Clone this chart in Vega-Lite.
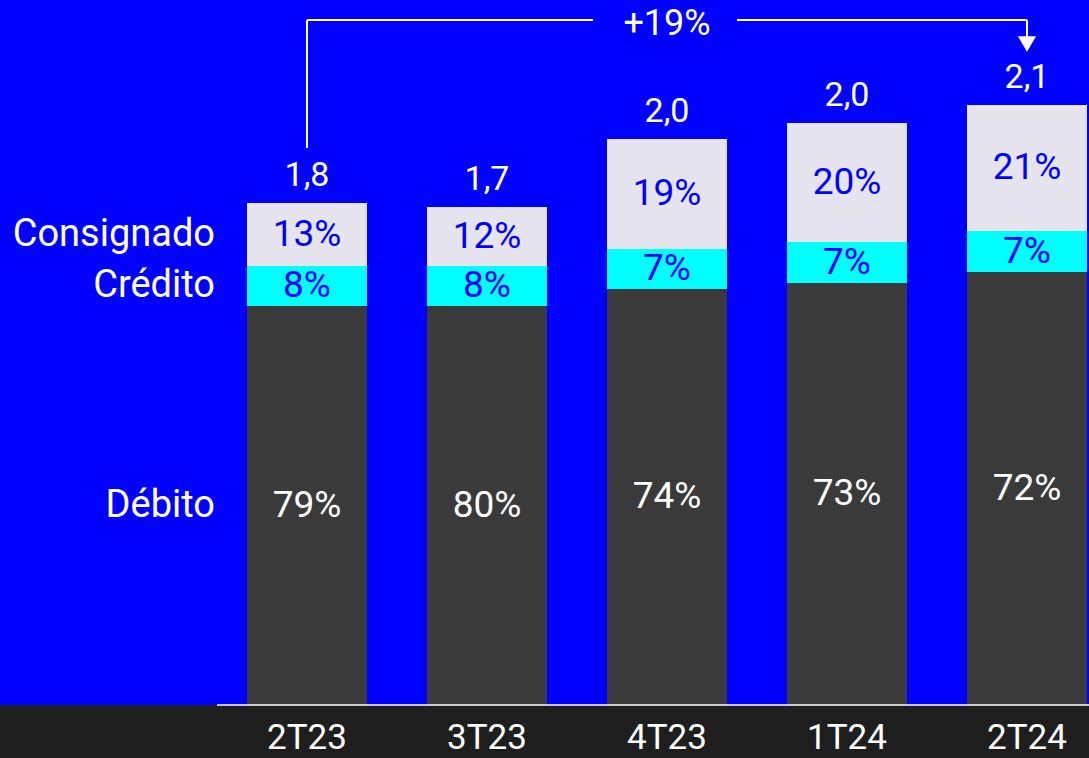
{
  "$schema": "https://vega.github.io/schema/vega-lite/v6.json",
  "width": 1089,
  "height": 705,
  "autosize": {"type": "none"},
  "padding": {"left": 0, "right": 0, "top": 0, "bottom": 53},
  "background": "#1e1e1e",
  "config": {
    "view": {"fill": "#0000ff", "stroke": null},
    "font": "Roboto",
    "axisX": {"labelAngle": 0, "labelColor": "#ffffff", "labelFont": "Roboto", "labelFontSize": 35, "labelPadding": 15, "ticks": false, "tickSize": 0, "domain": false, "grid": false, "title": null}
  },
  "datasets": {
    "segments": [
      {"quarter": "2T23", "segment": "Débito", "ord": 1, "value": 1.3965, "label": "79%"},
      {"quarter": "2T23", "segment": "Crédito", "ord": 2, "value": 0.14, "label": "8%"},
      {"quarter": "2T23", "segment": "Consignado", "ord": 3, "value": 0.2205, "label": "13%"},
      {"quarter": "3T23", "segment": "Débito", "ord": 1, "value": 1.3965, "label": "80%"},
      {"quarter": "3T23", "segment": "Crédito", "ord": 2, "value": 0.14, "label": "8%"},
      {"quarter": "3T23", "segment": "Consignado", "ord": 3, "value": 0.2065, "label": "12%"},
      {"quarter": "4T23", "segment": "Débito", "ord": 1, "value": 1.456, "label": "74%"},
      {"quarter": "4T23", "segment": "Crédito", "ord": 2, "value": 0.14, "label": "7%"},
      {"quarter": "4T23", "segment": "Consignado", "ord": 3, "value": 0.385, "label": "19%"},
      {"quarter": "1T24", "segment": "Débito", "ord": 1, "value": 1.477, "label": "73%"},
      {"quarter": "1T24", "segment": "Crédito", "ord": 2, "value": 0.1435, "label": "7%"},
      {"quarter": "1T24", "segment": "Consignado", "ord": 3, "value": 0.4165, "label": "20%"},
      {"quarter": "2T24", "segment": "Débito", "ord": 1, "value": 1.5155, "label": "72%"},
      {"quarter": "2T24", "segment": "Crédito", "ord": 2, "value": 0.1435, "label": "7%"},
      {"quarter": "2T24", "segment": "Consignado", "ord": 3, "value": 0.441, "label": "21%"}
    ],
    "totals": [
      {"quarter": "2T23", "total": 1.757, "label": "1,8"},
      {"quarter": "3T23", "total": 1.743, "label": "1,7"},
      {"quarter": "4T23", "total": 1.981, "label": "2,0"},
      {"quarter": "1T24", "total": 2.037, "label": "2,0"},
      {"quarter": "2T24", "total": 2.1, "label": "2,1"}
    ]
  },
  "layer": [
    {
      "data": {"name": "segments"},
      "mark": {"type": "bar"},
      "encoding": {
        "x": {"field": "quarter", "type": "nominal", "title": null, "sort": null,
              "scale": {"domain": ["2T23", "3T23", "4T23", "1T24", "2T24"], "paddingInner": 0.33333, "paddingOuter": 0.69167, "align": 0.992}},
        "y": {"field": "value", "type": "quantitative", "stack": "zero", "axis": null,
              "scale": {"domain": [0, 2.4675], "nice": false, "zero": true}},
        "color": {"field": "segment", "type": "nominal", "legend": null,
                  "scale": {"domain": ["Débito", "Crédito", "Consignado"], "range": ["#3b3a3b", "#00ffff", "#e6e4ef"]}},
        "order": {"field": "ord", "type": "quantitative"}
      }
    },
    {
      "data": {"name": "segments"},
      "transform": [
        {"stack": "value", "groupby": ["quarter"], "sort": [{"field": "ord", "order": "ascending"}], "as": ["y0", "y1"]},
        {"fold": ["y0", "y1"], "as": ["k", "v"]},
        {"aggregate": [{"op": "mean", "field": "v", "as": "mid"}], "groupby": ["quarter", "segment", "label"]}
      ],
      "mark": {"type": "text", "fontSize": 37, "baseline": "middle", "align": "center", "font": "Roboto"},
      "encoding": {
        "x": {"field": "quarter", "type": "nominal", "title": null},
        "y": {"field": "mid", "type": "quantitative", "axis": null},
        "text": {"field": "label"},
        "color": {"condition": {"test": "datum.segment === 'Débito'", "value": "#ffffff"}, "value": "#0000ff"}
      }
    },
    {
      "data": {"name": "segments"},
      "transform": [
        {"stack": "value", "groupby": ["quarter"], "sort": [{"field": "ord", "order": "ascending"}], "as": ["y0", "y1"]},
        {"filter": "datum.quarter === '2T23'"},
        {"fold": ["y0", "y1"], "as": ["k", "v"]},
        {"aggregate": [{"op": "mean", "field": "v", "as": "mid"}], "groupby": ["quarter", "segment"]}
      ],
      "mark": {"type": "text", "fontSize": 38, "baseline": "middle", "align": "right", "dx": -92, "color": "#ffffff", "font": "Roboto"},
      "encoding": {
        "x": {"field": "quarter", "type": "nominal", "title": null},
        "y": {"field": "mid", "type": "quantitative", "axis": null},
        "text": {"field": "segment"}
      }
    },
    {
      "data": {"name": "totals"},
      "mark": {"type": "text", "fontSize": 34, "baseline": "middle", "align": "center", "dy": -27, "color": "#ffffff", "font": "Roboto"},
      "encoding": {
        "x": {"field": "quarter", "type": "nominal", "title": null},
        "y": {"field": "total", "type": "quantitative", "axis": null},
        "text": {"field": "label"}
      }
    },
    {
      "data": {"values": [{"a": "2T23", "b": "2T24", "v": 0}]},
      "mark": {"type": "rule", "color": "#ffffff", "strokeWidth": 1.5, "xOffset": -90, "x2Offset": 62},
      "encoding": {
        "x": {"field": "a", "type": "nominal", "title": null},
        "x2": {"field": "b"},
        "y": {"field": "v", "type": "quantitative", "axis": null}
      }
    },
    {
      "data": {"values": [{"a": "2T23", "v1": 1.9495, "v2": 2.3975}]},
      "mark": {"type": "rule", "color": "#ffffff", "strokeWidth": 2},
      "encoding": {
        "x": {"field": "a", "type": "nominal", "title": null},
        "y": {"field": "v1", "type": "quantitative", "axis": null},
        "y2": {"field": "v2"}
      }
    },
    {
      "data": {"values": [{"a": "2T23", "b": "4T23", "v": 2.3975}]},
      "mark": {"type": "rule", "color": "#ffffff", "strokeWidth": 2, "x2Offset": -74},
      "encoding": {
        "x": {"field": "a", "type": "nominal", "title": null},
        "x2": {"field": "b"},
        "y": {"field": "v", "type": "quantitative", "axis": null}
      }
    },
    {
      "data": {"values": [{"a": "4T23", "b": "2T24", "v": 2.3975}]},
      "mark": {"type": "rule", "color": "#ffffff", "strokeWidth": 2, "xOffset": 70},
      "encoding": {
        "x": {"field": "a", "type": "nominal", "title": null},
        "x2": {"field": "b"},
        "y": {"field": "v", "type": "quantitative", "axis": null}
      }
    },
    {
      "data": {"values": [{"a": "2T24", "v1": 2.3975, "v2": 2.3345}]},
      "mark": {"type": "rule", "color": "#ffffff", "strokeWidth": 2},
      "encoding": {
        "x": {"field": "a", "type": "nominal", "title": null},
        "y": {"field": "v1", "type": "quantitative", "axis": null},
        "y2": {"field": "v2"}
      }
    },
    {
      "data": {"values": [{"a": "2T24", "v": 2.3135}]},
      "mark": {"type": "point", "shape": "triangle-down", "filled": true, "color": "#ffffff", "opacity": 1, "size": 330, "strokeWidth": 0},
      "encoding": {
        "x": {"field": "a", "type": "nominal", "title": null},
        "y": {"field": "v", "type": "quantitative", "axis": null}
      }
    },
    {
      "data": {"values": [{"a": "4T23", "v": 2.3975, "t": "+19%"}]},
      "mark": {"type": "text", "fontSize": 36, "baseline": "middle", "align": "center", "dy": 4, "color": "#ffffff", "font": "Roboto"},
      "encoding": {
        "x": {"field": "a", "type": "nominal", "title": null},
        "y": {"field": "v", "type": "quantitative", "axis": null},
        "text": {"field": "t"}
      }
    }
  ]
}
